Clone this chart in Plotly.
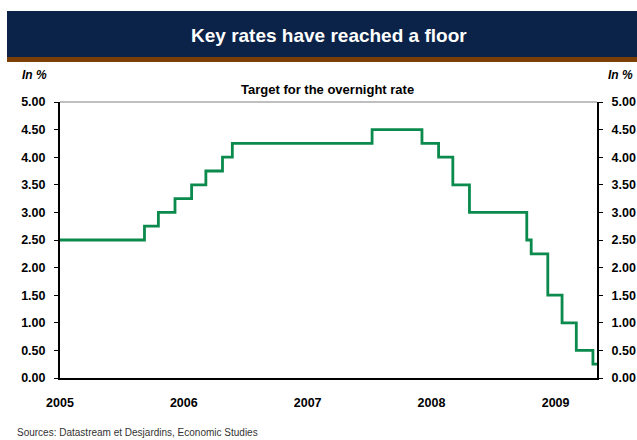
import plotly.graph_objects as go

# Bank of Canada target for the overnight rate (decision dates and new levels)
dates = ["2005-01-01", "2005-09-07", "2005-10-18", "2005-12-06", "2006-01-24",
         "2006-03-07", "2006-04-25", "2006-05-24", "2007-07-10", "2007-12-04",
         "2008-01-22", "2008-03-04", "2008-04-22", "2008-10-08", "2008-10-21",
         "2008-12-09", "2009-01-20", "2009-03-03", "2009-04-21", "2009-05-03"]
rates = [2.50, 2.75, 3.00, 3.25, 3.50, 3.75, 4.00, 4.25, 4.50, 4.25,
         4.00, 3.50, 3.00, 2.50, 2.25, 1.50, 1.00, 0.50, 0.25, 0.25]

year_ticks = ["2005-01-01", "2006-01-01", "2007-01-01", "2008-01-01", "2009-01-01"]
year_labels = ["2005", "2006", "2007", "2008", "2009"]
y_ticks = [0, 0.5, 1, 1.5, 2, 2.5, 3, 3.5, 4, 4.5, 5]

FONT = "Arial, Liberation Sans, sans-serif"

fig = go.Figure()
fig.add_trace(go.Scatter(x=dates, y=rates, mode="lines", line_shape="hv",
                         line=dict(color="#0a8a4c", width=2.8),
                         hoverinfo="skip", showlegend=False))
# invisible trace for right axis
fig.add_trace(go.Scatter(x=[dates[0]], y=[rates[0]], yaxis="y2", mode="lines",
                         line=dict(width=0), showlegend=False, hoverinfo="skip"))

yax = dict(range=[0, 5], tickvals=y_ticks, ticktext=[f"{v:.2f}" for v in y_ticks],
           showgrid=False, zeroline=False, showline=True, linecolor="#000000",
           linewidth=2, ticks="outside", ticklen=4, tickwidth=1, tickcolor="#000000",
           tickfont=dict(family=FONT, size=12.5, color="#000000", weight="bold"),
           ticklabelstandoff=6, fixedrange=True, automargin=False)

fig.update_layout(
    width=637, height=440,
    margin=dict(l=60, r=40, t=102, b=62, autoexpand=False),
    paper_bgcolor="#ffffff", plot_bgcolor="#ffffff",
    xaxis=dict(type="date", range=["2005-01-01", "2009-05-03"],
               tickvals=year_ticks, ticktext=year_labels,
               showgrid=False, zeroline=False, showline=True,
               linecolor="#000000", linewidth=2, ticks="",
               tickfont=dict(family=FONT, size=12.5, color="#000000", weight="bold"),
               ticklabelstandoff=12, automargin=False),
    yaxis=yax,
    yaxis2=dict(yax, overlaying="y", side="right"),
    shapes=[
        dict(type="rect", xref="paper", yref="paper",
             x0=-53 / 537, x1=1 + 40 / 537,
             y0=1 + (102 - 57) / 276, y1=1 + (102 - 11) / 276,
             fillcolor="#0b2349", line=dict(width=0), layer="below"),
        dict(type="rect", xref="paper", yref="paper",
             x0=-53 / 537, x1=1 + 40 / 537,
             y0=1 + (102 - 62) / 276, y1=1 + (102 - 57) / 276,
             fillcolor="#7a3e06", line=dict(width=0), layer="below"),
        dict(type="line", xref="paper", yref="paper", x0=0, x1=1, y0=1, y1=1,
             line=dict(color="#808080", width=1.2)),
    ],
    annotations=[
        dict(text="Key rates have reached a floor", xref="paper", yref="paper",
             x=(329 - 60) / 537, y=1 + (102 - 35) / 276, showarrow=False,
             xanchor="center", yanchor="middle",
             font=dict(family=FONT, size=19, color="#ffffff", weight="bold")),
        dict(text="Target for the overnight rate", xref="paper", yref="paper",
             x=(327 - 60) / 537, y=1 + (102 - 89) / 276, showarrow=False,
             xanchor="center", yanchor="middle",
             font=dict(family=FONT, size=13, color="#000000", weight="bold")),
        dict(text="In %", xref="paper", yref="paper",
             x=(20 - 60) / 537, y=1 + (102 - 75) / 276, showarrow=False,
             xanchor="left", yanchor="middle",
             font=dict(family=FONT, size=12, color="#000000", weight="bold", style="italic")),
        dict(text="In %", xref="paper", yref="paper",
             x=(635 - 60) / 537, y=1 + (102 - 75) / 276, showarrow=False,
             xanchor="right", yanchor="middle",
             font=dict(family=FONT, size=12, color="#000000", weight="bold", style="italic")),
        dict(text="Sources: Datastream et Desjardins, Economic Studies", xref="paper", yref="paper",
             x=(15 - 60) / 537, y=-(432 - 378) / 276, showarrow=False,
             xanchor="left", yanchor="middle",
             font=dict(family=FONT, size=10, color="#333333")),
    ],
)

fig.write_html("out.html")
